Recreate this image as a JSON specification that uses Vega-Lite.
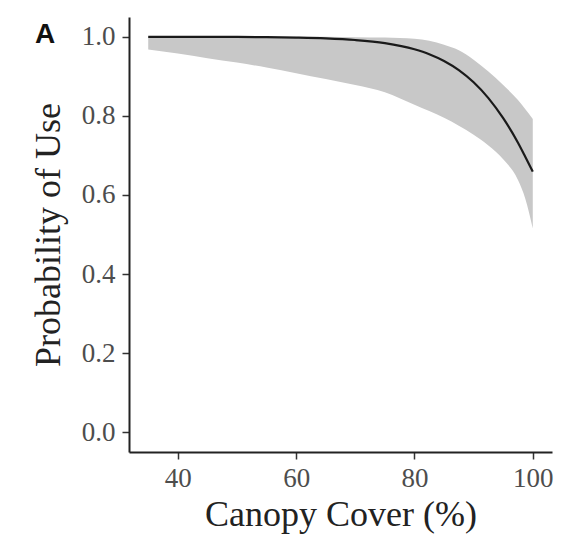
{
  "$schema": "https://vega.github.io/schema/vega-lite/v6.json",
  "autosize": {"type": "none"},
  "width": 423,
  "height": 435,
  "padding": {"left": 129, "top": 17, "right": 22, "bottom": 100},
  "background": "white",
  "title": {
    "text": "A",
    "anchor": "start",
    "frame": "group",
    "orient": "top",
    "font": "Liberation Sans",
    "fontWeight": "bold",
    "fontSize": 28,
    "color": "#111111",
    "baseline": "alphabetic",
    "offset": 0,
    "dx": -94,
    "dy": 54
  },
  "config": {
    "view": {"stroke": null},
    "axis": {
      "grid": false,
      "labelFont": "Liberation Serif",
      "titleFont": "Liberation Serif",
      "labelFontSize": 27,
      "titleFontSize": 36,
      "titleFontWeight": "normal",
      "labelColor": "#4d4d4d",
      "titleColor": "#222222",
      "domainColor": "#222222",
      "domainWidth": 2,
      "tickColor": "#333333",
      "tickWidth": 1.5,
      "tickSize": 7
    }
  },
  "data": {
    "values": [
      {"x": 35, "p": 0.9999, "lo": 0.968, "hi": 1.0},
      {"x": 40, "p": 0.9999, "lo": 0.958, "hi": 1.0},
      {"x": 45, "p": 0.9997, "lo": 0.946, "hi": 1.0},
      {"x": 50, "p": 0.9995, "lo": 0.935, "hi": 1.0},
      {"x": 55, "p": 0.999, "lo": 0.922, "hi": 1.0},
      {"x": 60, "p": 0.9979, "lo": 0.908, "hi": 1.0},
      {"x": 65, "p": 0.9959, "lo": 0.893, "hi": 1.0},
      {"x": 70, "p": 0.9918, "lo": 0.878, "hi": 0.999},
      {"x": 75, "p": 0.9839, "lo": 0.86, "hi": 0.998},
      {"x": 80, "p": 0.9683, "lo": 0.828, "hi": 0.995},
      {"x": 82.5, "p": 0.956, "lo": 0.812, "hi": 0.99},
      {"x": 85, "p": 0.9388, "lo": 0.795, "hi": 0.98},
      {"x": 87.5, "p": 0.9157, "lo": 0.775, "hi": 0.966},
      {"x": 90, "p": 0.8849, "lo": 0.752, "hi": 0.942},
      {"x": 92.5, "p": 0.8449, "lo": 0.725, "hi": 0.912},
      {"x": 95, "p": 0.7941, "lo": 0.69, "hi": 0.878},
      {"x": 97.5, "p": 0.732, "lo": 0.638, "hi": 0.84},
      {"x": 98.75, "p": 0.696, "lo": 0.59, "hi": 0.817},
      {"x": 100, "p": 0.659, "lo": 0.515, "hi": 0.792}
    ]
  },
  "layer": [
    {
      "mark": {"type": "area", "color": "#c8c8c8", "opacity": 1, "interpolate": "monotone"},
      "encoding": {
        "x": {
          "field": "x", "type": "quantitative",
          "scale": {"domain": [31.75, 103.25], "nice": false, "zero": false},
          "axis": {"values": [40, 60, 80, 100], "title": "Canopy Cover (%)", "labelPadding": 6, "titlePadding": 6}
        },
        "y": {
          "field": "lo", "type": "quantitative",
          "scale": {"domain": [-0.05, 1.05], "nice": false, "zero": false},
          "axis": {"values": [0, 0.2, 0.4, 0.6, 0.8, 1.0], "format": ".1f", "title": "Probability of Use", "labelPadding": 7, "titlePadding": 14}
        },
        "y2": {"field": "hi"}
      }
    },
    {
      "mark": {"type": "line", "color": "#1a1a1a", "strokeWidth": 2.2, "interpolate": "monotone"},
      "encoding": {
        "x": {"field": "x", "type": "quantitative"},
        "y": {"field": "p", "type": "quantitative"}
      }
    }
  ]
}
